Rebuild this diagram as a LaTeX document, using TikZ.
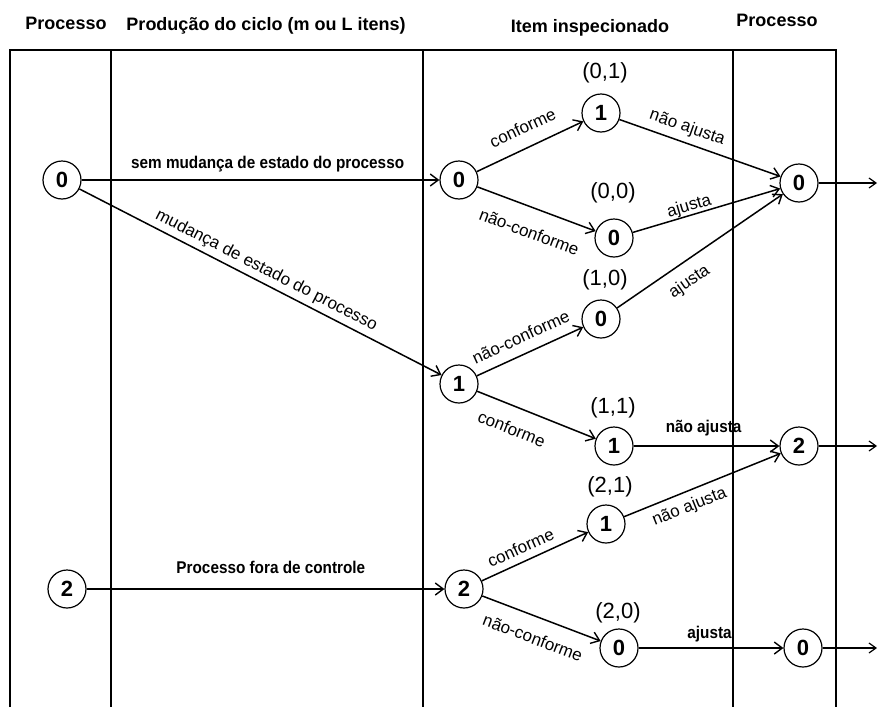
\documentclass[tikz,border=0pt]{standalone}
\usepackage{fontspec}
\setmainfont{Liberation Sans}
\newfontfamily\condsf{Liberation Sans}[FakeStretch=0.9]
\usetikzlibrary{arrows.meta}
\begin{document}
\begin{tikzpicture}[x=1pt,y=-1pt,
  state/.style={circle, draw, line width=1.2pt, minimum size=38pt, inner sep=0pt,
    font=\fontsize{22}{22}\selectfont\bfseries},
  pair/.style={font=\fontsize{22}{22}\selectfont},
  head/.style={anchor=base, font=\fontsize{18}{18}\selectfont\bfseries},
  flow/.style={-{Straight Barb[length=8pt,width=12pt,line width=1.4pt]}, line width=1.5pt},
  outflow/.style={-{Straight Barb[length=7pt,width=10pt,line width=1.2pt]}, line width=1.1pt},
  elab/.style={font=\fontsize{17}{17}\selectfont, sloped, inner sep=0pt},
  blab/.style={font=\condsf\bfseries\fontsize{17}{17}\selectfont, inner sep=0pt},
  frame/.style={line width=1.2pt}]
\useasboundingbox (0,0) rectangle (878,707);

% column frame
\draw[frame] (10,707) -- (10,50) -- (836,50) -- (836,707);
\draw[frame] (111,50) -- (111,707);
\draw[frame] (423,50) -- (423,707);
\draw[frame] (733,50) -- (733,707);

% column headings
\node[head] (h1) at (66,29) {Processo};
\node[head] (h2) at (266,30) {Produção do ciclo (m ou L itens)};
\node[head] (h3) at (590,32) {Item inspecionado};
\node[head] (h4) at (777,26) {Processo};

% process states at the start of the cycle
\node[state] (a0) at (62,180) {0};
\node[state] (a2) at (67,589) {2};

% process states at inspection
\node[state] (b0) at (459,180) {0};
\node[state] (b1) at (459,384) {1};
\node[state] (b2) at (464,589) {2};

% inspected item outcomes
\node[state] (n01) at (601,113) {1};
\node[state] (n00) at (614,238) {0};
\node[state] (n10) at (601,319) {0};
\node[state] (n11) at (614,446) {1};
\node[state] (n21) at (606,524) {1};
\node[state] (n20) at (619,648) {0};

\node[pair] (p01) at (605,73) {(0,1)};
\node[pair] (p00) at (613,193) {(0,0)};
\node[pair] (p10) at (605,280) {(1,0)};
\node[pair] (p11) at (613,408) {(1,1)};
\node[pair] (p21) at (610,487) {(2,1)};
\node[pair] (p20) at (618,613) {(2,0)};

% process states for the next cycle
\node[state] (c0) at (799,183) {0};
\node[state] (c2) at (799,446) {2};
\node[state] (d0) at (803,648) {0};

\coordinate (o0) at (877,183);
\coordinate (o2) at (877,446);
\coordinate (o4) at (877,648);

% transitions
\draw[flow] (a0) -- node[blab, above=7pt, pos=0.52] {sem mudança de estado do processo} (b0);
\draw[flow] (a0) -- node[elab, above=4pt, pos=0.50] {mudança de estado do processo} (b1);
\draw[flow] (a2) -- node[blab, above=15pt, pos=0.515] {Processo fora de controle} (b2);

\draw[flow] (b0) -- node[elab, above=13pt, pos=0.51] {conforme} (n01);
\draw[flow] (b0) -- node[elab, below=17pt, pos=0.51] {não-conforme} (n00);
\draw[flow] (b1) -- node[elab, above=10pt, pos=0.48] {não-conforme} (n10);
\draw[flow] (b1) -- node[elab, below=15pt, pos=0.36] {conforme} (n11);
\draw[flow] (b2) -- node[elab, above=7pt, pos=0.42] {conforme} (n21);
\draw[flow] (b2) -- node[elab, below=14pt, pos=0.49] {não-conforme} (n20);

\draw[flow] (n01) -- node[elab, above=6pt, pos=0.39] {não ajusta} (c0);
\draw[flow] (n00) -- node[elab, above=0pt, pos=0.40] {ajusta} (c0);
\draw[flow] (n10) -- node[elab, below=11pt, pos=0.37] {ajusta} (c0);
\draw[flow] (n11) -- node[blab, above=9pt, pos=0.48] {não ajusta} (c2);
\draw[flow] (n21) -- node[elab, below=7pt, pos=0.38] {não ajusta} (c2);
\draw[flow] (n20) -- node[blab, above=5pt, pos=0.49] {ajusta} (d0);

\draw[outflow] (c0) -- (o0);
\draw[outflow] (c2) -- (o2);
\draw[outflow] (d0) -- (o4);
\end{tikzpicture}
\end{document}
